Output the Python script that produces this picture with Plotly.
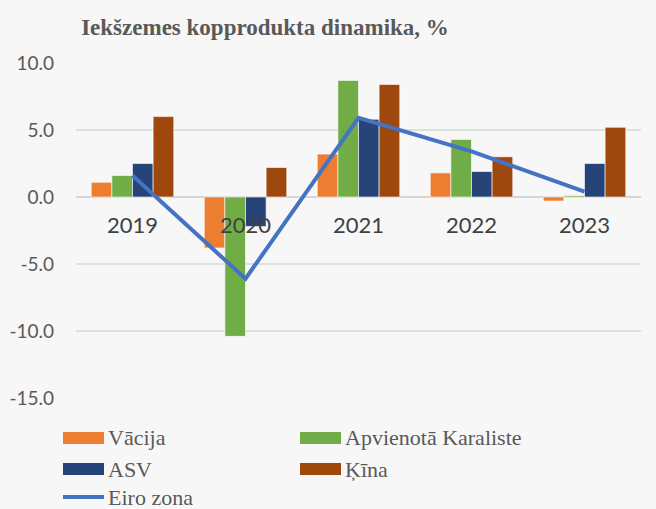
import plotly.graph_objects as go

# Dati
gadi = ['2019', '2020', '2021', '2022', '2023']
vacija = [1.1, -3.8, 3.2, 1.8, -0.3]
apvienota_karaliste = [1.6, -10.4, 8.7, 4.3, 0.1]
asv = [2.5, -2.2, 5.8, 1.9, 2.5]
kina = [6.0, 2.2, 8.4, 3.0, 5.2]
eiro_zona = [1.6, -6.1, 5.9, 3.4, 0.4]

nosaukumi = ['Vācija', 'Apvienotā Karaliste', 'ASV', 'Ķīna', 'Eiro zona']
krasas = ['#ED7D31', '#70AD47', '#264478', '#9E480E', '#4472C4']

y_ticks = [10, 5, 0, -5, -10, -15]
y_tick_text = ['10.0', '5.0', '0.0', '-5.0', '-10.0', '-15.0']

W, H = 656, 509
L, R, T, B = 76, 15, 63, 111
PW, PH = W - L - R, H - T - B


def px_x(px):
    return (px - L) / PW


def px_y(py):
    return (H - B - py) / PH


fig = go.Figure()

for name, vals, col in zip(nosaukumi[:4], [vacija, apvienota_karaliste, asv, kina], krasas[:4]):
    fig.add_trace(go.Bar(
        x=gadi, y=vals, name=name,
        marker=dict(color=col, line=dict(color='rgba(255,255,255,0.6)', width=1)),
    ))

fig.add_trace(go.Scatter(
    x=gadi, y=eiro_zona, name=nosaukumi[4], mode='lines',
    line=dict(color=krasas[4], width=4),
))

# Gadu nosaukumi pie nulles ass (Excel stils)
for i, g in enumerate(gadi):
    fig.add_annotation(x=i, y=0, text=g, showarrow=False, yanchor='top', yshift=-12,
                       font=dict(family='Lato', size=22, color='#404040'))

# Leģenda
leg_font = dict(family='Liberation Serif', size=22, color='#595959')
poz = [(63, 438), (300, 438), (63, 469), (300, 469), (63, 497)]
shapes = []
for i, (name, col) in enumerate(zip(nosaukumi, krasas)):
    x0, yc = poz[i]
    if i < 4:
        shapes.append(dict(type='rect', xref='paper', yref='paper',
                           x0=px_x(x0), x1=px_x(x0 + 41), y0=px_y(yc + 6), y1=px_y(yc - 6),
                           fillcolor=col, line=dict(width=0)))
    else:
        shapes.append(dict(type='line', xref='paper', yref='paper',
                           x0=px_x(x0), x1=px_x(x0 + 41), y0=px_y(yc), y1=px_y(yc),
                           line=dict(color=col, width=4)))
    fig.add_annotation(xref='paper', yref='paper', x=px_x(x0 + 43), y=px_y(yc),
                       text=name, showarrow=False, xanchor='left', yanchor='middle',
                       font=leg_font)

fig.update_layout(
    width=W, height=H,
    margin=dict(l=L, r=R, t=T, b=B, autoexpand=False),
    paper_bgcolor='#F7F7F7', plot_bgcolor='#F7F7F7',
    barmode='group', bargap=0.27, bargroupgap=0,
    showlegend=False,
    shapes=shapes,
    title=dict(text='<b>Iekšzemes kopprodukta dinamika, %</b>', x=265 / W, xanchor='center',
               y=1 - 27 / H, yanchor='middle',
               font=dict(family='Liberation Serif', size=23, color='#595959')),
    xaxis=dict(type='category', range=[-0.5, 4.5], showticklabels=False, showgrid=False,
               zeroline=False, showline=False, automargin=False),
    yaxis=dict(range=[-15, 10], tickvals=y_ticks, ticktext=y_tick_text,
               showgrid=True, gridcolor='#D9E2DC', gridwidth=1.5,
               zeroline=True, zerolinecolor='#D6D6D6', zerolinewidth=2,
               ticks='', ticklabelstandoff=21, automargin=False,
               tickfont=dict(family='Lato', size=19, color='#595959')),
)

fig.write_html('out.html', config={'displayModeBar': False},
               post_script="document.body.style.margin='0';")
